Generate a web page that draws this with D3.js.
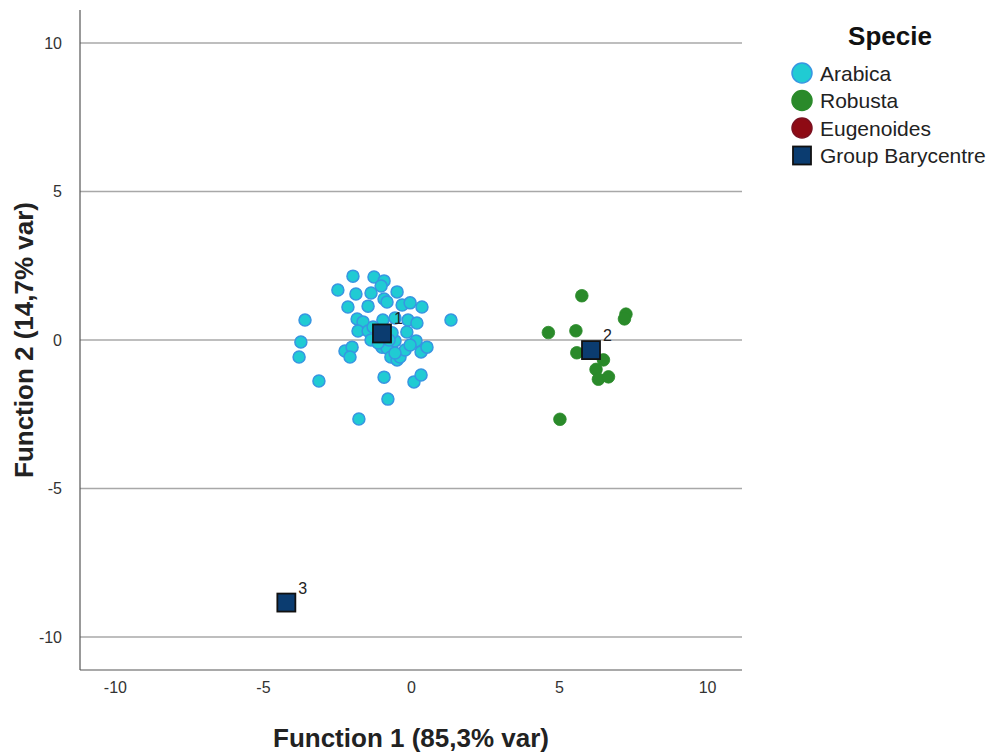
<!DOCTYPE html>
<html><head><meta charset="utf-8">
<script src="https://cdn.jsdelivr.net/npm/d3@7"></script>
<style>body{margin:0;background:#fff}svg{display:block;font-family:"Liberation Sans",Arial,sans-serif}</style>
</head><body><svg id="c" width="993" height="754"></svg>
<script>
const arabicaX = [-1.96,-1.25,-0.91,-1.01,-2.47,-1.86,-1.35,-0.47,-0.91,-2.13,-1.45,-0.81,-0.30,-0.03,0.37,-3.58,-1.82,-1.62,-0.95,-0.54,-0.10,0.20,-1.79,-1.45,-1.28,-0.14,-3.72,-3.78,-2.23,-1.99,-2.06,-1.35,-0.98,-0.81,-0.54,0.17,0.34,0.54,-0.68,-0.47,-0.37,-0.20,-0.54,-3.11,-0.91,0.10,0.34,-0.78,-1.76,-0.64,1.35,-0.74,-1.11,-0.03];
const arabicaY = [2.15,2.12,1.99,1.82,1.68,1.55,1.58,1.62,1.38,1.11,1.14,1.28,1.18,1.25,1.11,0.67,0.71,0.61,0.67,0.74,0.67,0.57,0.30,0.30,0.44,0.27,-0.07,-0.57,-0.37,-0.24,-0.57,0.00,-0.24,-0.27,-0.03,-0.03,-0.40,-0.24,-0.57,-0.67,-0.57,-0.34,-0.44,-1.38,-1.25,-1.41,-1.18,-1.99,-2.66,0.24,0.67,0.00,-0.10,-0.17];
const robustaX = [5.77,7.26,7.21,4.64,5.57,5.60,6.50,6.25,6.33,6.67,5.03];
const robustaY = [1.49,0.87,0.71,0.25,0.31,-0.43,-0.67,-0.99,-1.32,-1.24,-2.67];
const baryLabels = ["1","2","3"];
const baryX = [-0.98,6.08,-4.21];
const baryY = [0.22,-0.34,-8.84];
const xTicks = [-10,-5,0,5,10];
const yTicks = [-10,-5,0,5,10];
const legendLabels = ["Arabica","Robusta","Eugenoides","Group Barycentre"];
const colors = {Arabica:"#20CBD3", Robusta:"#2A8A2A", Eugenoides:"#8E0A14", bary:"#0B3C70"};

const svg = d3.select("#c");
const L=80,R=742,T=10,B=670;
const x = d3.scaleLinear().domain([-11.18,11.18]).range([L,R]);
const y = d3.scaleLinear().domain([-11.11,11.11]).range([B,T]);

// gridlines
svg.append("g").selectAll("line").data(yTicks).join("line")
  .attr("x1",L).attr("x2",R).attr("y1",d=>y(d)).attr("y2",d=>y(d))
  .attr("stroke","#a8a8a8").attr("stroke-width",1.5);

// axes lines
svg.append("line").attr("x1",L).attr("x2",L).attr("y1",T).attr("y2",B).attr("stroke","#555").attr("stroke-width",1.2);
svg.append("line").attr("x1",L).attr("x2",R).attr("y1",B).attr("y2",B).attr("stroke","#555").attr("stroke-width",1.2);

// tick labels
const fmt = d=>String(d);
const yAxis = d3.axisLeft(y).tickValues(yTicks).tickSize(0).tickPadding(18).tickFormat(fmt);
const gy = svg.append("g").attr("transform",`translate(${L},0)`).call(yAxis);
gy.select(".domain").remove();
gy.selectAll("text").attr("font-size",16).attr("fill","#333").attr("font-family","Liberation Sans, Arial, sans-serif");
const xAxis = d3.axisBottom(x).tickValues(xTicks).tickSize(0).tickPadding(12).tickFormat(fmt);
const gx = svg.append("g").attr("transform",`translate(0,${B})`).call(xAxis);
gx.select(".domain").remove();
gx.selectAll("text").attr("font-size",16).attr("fill","#333").attr("font-family","Liberation Sans, Arial, sans-serif");

// points
const arabica = arabicaX.map((v,i)=>({x:v,y:arabicaY[i]}));
const robusta = robustaX.map((v,i)=>({x:v,y:robustaY[i]}));
svg.append("g").selectAll("circle").data(arabica).join("circle")
  .attr("cx",d=>x(d.x)).attr("cy",d=>y(d.y)).attr("r",6)
  .attr("fill",colors.Arabica).attr("stroke","#3796E2").attr("stroke-width",1.5);
svg.append("g").selectAll("circle").data(robusta).join("circle")
  .attr("cx",d=>x(d.x)).attr("cy",d=>y(d.y)).attr("r",6.3)
  .attr("fill",colors.Robusta).attr("stroke",colors.Robusta).attr("stroke-width",0.8);

// barycentres
const bary = baryX.map((v,i)=>({x:v,y:baryY[i],l:baryLabels[i]}));
const gb = svg.append("g");
gb.selectAll("rect").data(bary).join("rect")
  .attr("x",d=>x(d.x)-9).attr("y",d=>y(d.y)-9).attr("width",18).attr("height",18)
  .attr("fill",colors.bary).attr("stroke","#111").attr("stroke-width",1.8);
gb.selectAll("text").data(bary).join("text")
  .attr("x",d=>x(d.x)+12).attr("y",d=>y(d.y)-9)
  .attr("font-size",16).attr("fill","#222").text(d=>d.l);

// axis titles
svg.append("text").attr("x",411).attr("y",747).attr("text-anchor","middle")
  .attr("font-size",25).attr("font-weight","bold").attr("fill","#222")
  .attr("textLength",276).attr("lengthAdjust","spacingAndGlyphs").text("Function 1 (85,3% var)");
svg.append("text").attr("transform","translate(33,340) rotate(-90)").attr("text-anchor","middle")
  .attr("font-size",25).attr("font-weight","bold").attr("fill","#222")
  .attr("textLength",276).attr("lengthAdjust","spacingAndGlyphs").text("Function 2 (14,7% var)");

// legend
const lg = svg.append("g");
lg.append("text").attr("x",890).attr("y",45).attr("text-anchor","middle")
  .attr("font-size",26).attr("font-weight","bold").attr("fill","#111").text("Specie");
const legFill = [colors.Arabica,colors.Robusta,colors.Eugenoides,colors.bary];
const legStroke = ["#3796E2",colors.Robusta,"#7a1020","#111"];
legendLabels.forEach((lab,i)=>{
  const cy = 73 + i*27.5;
  if(i<3){
    lg.append("circle").attr("cx",802).attr("cy",cy).attr("r",10)
      .attr("fill",legFill[i]).attr("stroke",legStroke[i]).attr("stroke-width",1.5);
  } else {
    lg.append("rect").attr("x",793).attr("y",cy-9).attr("width",18).attr("height",18)
      .attr("fill",legFill[i]).attr("stroke",legStroke[i]).attr("stroke-width",1.8);
  }
  lg.append("text").attr("x",820).attr("y",cy+7.5).attr("font-size",21).attr("fill","#222").text(lab);
});
</script></body></html>
